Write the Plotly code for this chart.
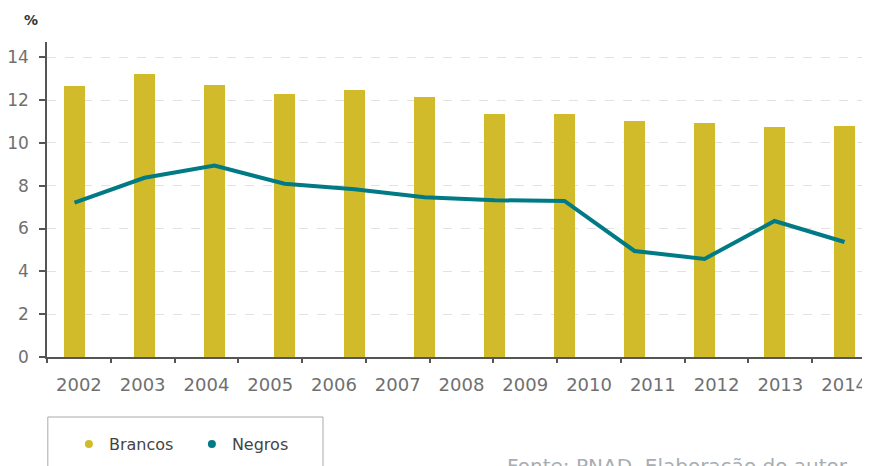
import plotly.graph_objects as go

# PNAD data (no survey in 2010)
anos = ["2002", "2003", "2004", "2005", "2006", "2007", "2008", "2009", "2011", "2012", "2013", "2014"]
brancos = [12.66, 13.22, 12.70, 12.28, 12.47, 12.14, 11.35, 11.35, 11.02, 10.93, 10.74, 10.79]
negros = [7.21, 8.37, 8.94, 8.09, 7.83, 7.46, 7.32, 7.29, 4.95, 4.58, 6.35, 5.37]

# axis labels as printed in the original (13 labels)
rotulos = ["2002", "2003", "2004", "2005", "2006", "2007", "2008", "2009", "2010", "2011", "2012", "2013", "2014"]

AMARELO = "#d2bb2a"
AZUL = "#007a85"
CINZA = "#707070"
EIXO = "#555555"

fig = go.Figure()

fig.add_trace(go.Bar(
    x=anos, y=brancos, name="Brancos",
    marker=dict(color=AMARELO, line=dict(width=0)),
    width=0.3, showlegend=False,
    ))
fig.add_trace(go.Scatter(
    x=anos, y=negros, name="Negros", mode="lines",
    line=dict(color=AZUL, width=4),
    showlegend=False,
    ))

# legend entries drawn as dots
fig.add_trace(go.Scatter(x=[None], y=[None], mode="markers", name="Brancos",
                         marker=dict(color=AMARELO, size=8)))
fig.add_trace(go.Scatter(x=[None], y=[None], mode="markers", name="Negros",
                         marker=dict(color=AZUL, size=8)))

# helper trace for the label axis
fig.add_trace(go.Scatter(x=rotulos, y=[None] * len(rotulos), xaxis="x2",
                         showlegend=False, hoverinfo="skip", mode="markers"))

fig.update_layout(
    width=870, height=466,
    margin=dict(l=39, r=9, t=34, b=117),
    plot_bgcolor="white", paper_bgcolor="white",
    font=dict(family="DejaVu Sans", color=CINZA),
    xaxis=dict(
        type="category", categoryorder="array", categoryarray=anos,
        range=[-0.393, 11.35], automargin=False,
        showticklabels=False, ticks="",
        showline=True, linecolor=EIXO, linewidth=1.5,
        showgrid=False, zeroline=False,
        ),
    xaxis2=dict(
        type="category", categoryorder="array", categoryarray=rotulos,
        overlaying="x", anchor="y", side="bottom",
        range=[-0.5, 12.39], automargin=False,
        tickson="boundaries", ticks="outside", ticklen=5, tickwidth=1.5, tickcolor=EIXO,
        tickfont=dict(size=18, color=CINZA, family="DejaVu Sans"),
        ticklabelstandoff=15,
        showline=False, showgrid=False, zeroline=False,
        ),
    yaxis=dict(
        range=[0, 14.71], dtick=2, automargin=False,
        showline=True, linecolor=EIXO, linewidth=1.5,
        ticks="outside", ticklen=6, tickwidth=1.5, tickcolor=EIXO,
        tickfont=dict(size=17, color=CINZA, family="DejaVu Sans"),
        ticklabelstandoff=7,
        showgrid=True, gridcolor="#e2e2e2", gridwidth=1, griddash="dash",
        zeroline=False,
        ),
    legend=dict(
        orientation="h", xref="container", yref="container",
        x=0.07, y=1 - 436 / 466, xanchor="left", yanchor="middle",
        font=dict(size=16, color="#444444", family="DejaVu Sans"),
        bgcolor="rgba(0,0,0,0)", borderwidth=0,
        entrywidth=78,
        ),
    bargap=0,
    )

# box around the legend
fig.add_shape(type="rect", xref="paper", yref="paper",
              x0=0.001, x1=(323 - 47) / 822, y0=(357 - 417) / 315, y1=(357 - 480) / 315,
              line=dict(color="#aaaaaa", width=1))

fig.add_annotation(
    xref="paper", yref="paper", x=-0.0195, y=1.07,
    xanchor="center", yanchor="middle",
    text="<b>%</b>", showarrow=False,
    font=dict(size=14, color="#333333", family="DejaVu Sans"),
    )

fig.add_annotation(
    xref="paper", yref="paper", x=(505 - 47) / 822, y=(357 - 452) / 315,
    xanchor="left", yanchor="top",
    text="Fonte: PNAD. Elaboração do autor", showarrow=False,
    font=dict(size=20, color="#a8adb2", family="DejaVu Sans"),
    )

fig.write_html("out.html")
